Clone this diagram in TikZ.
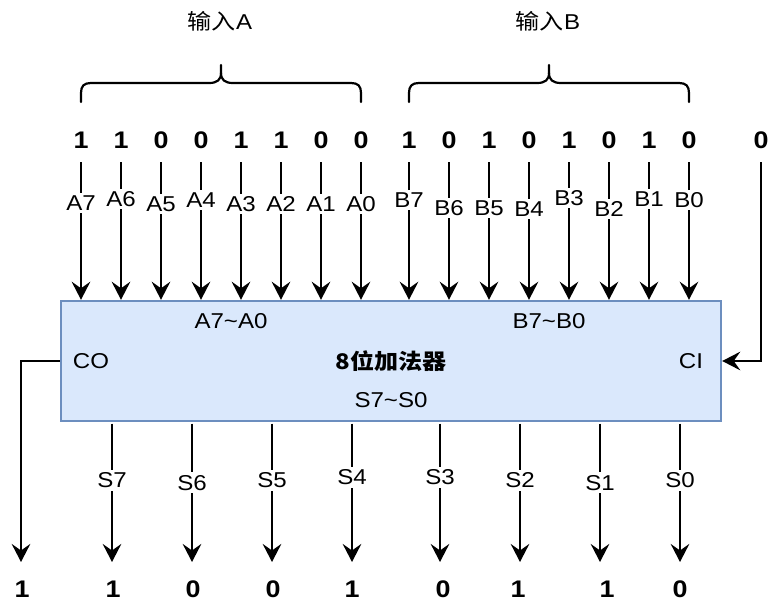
\documentclass[tikz,border=0pt]{standalone}
\usepackage{fontspec}
\setmainfont{Liberation Sans}[FakeStretch=1.12]
\newfontfamily\cjk{Noto Sans CJK SC}[FakeStretch=1.12]
\usetikzlibrary{arrows.meta}
\definecolor{boxfill}{HTML}{DAE8FC}
\definecolor{boxline}{HTML}{6C8EBF}
\tikzset{
  arr/.style={line width=2.8pt,-{Stealth[length=18pt,width=18.5pt,inset=6.5pt]}},
  lbl/.style={fill=white,inner sep=2.5pt,font=\fontsize{21.5}{24}\selectfont},
  bit/.style={font=\fontsize{24}{26}\selectfont\bfseries,inner sep=0pt,minimum height=44pt},
  obit/.style={bit,minimum height=52pt},
  intext/.style={font=\fontsize{21.5}{24}\selectfont,inner sep=0pt},
  brace/.style={line width=2.2pt,line cap=round,line join=round}}
\begin{document}
\begin{tikzpicture}[x=1pt,y=-1pt]
\useasboundingbox (0,0) rectangle (784,610);

% adder box
\node[draw=boxline,fill=boxfill,line width=2.4pt,minimum width=660pt,minimum height=120pt,inner sep=0pt,
      font=\fontsize{21.5}{24}\selectfont\cjk\bfseries] (adder) at (391,361) {8位加法器};
\node[intext] (ta) at (231,321) {A7\textasciitilde A0};
\node[intext] (tb) at (549,321) {B7\textasciitilde B0};
\node[intext] (tco) at (91,361) {CO};
\node[intext] (tci) at (691,361) {CI};
\node[intext] (ts) at (391,400) {S7\textasciitilde S0};

% group labels and braces
\node[intext] (ga) at (220,21) {{\cjk 输入}A};
\node[intext] (gb) at (548,21) {{\cjk 输入}B};
\foreach \c in {221,549} {
  \draw[brace] (\c-140,102) -- (\c-140,93) .. controls (\c-140,86) and (\c-137,83) .. (\c-130,83)
    -- (\c-12,83) .. controls (\c-4,83) and (\c,80) .. (\c,73) -- (\c,65);
  \draw[brace] (\c,73) .. controls (\c,80) and (\c+4,83) .. (\c+12,83)
    -- (\c+130,83) .. controls (\c+137,83) and (\c+140,86) .. (\c+140,93) -- (\c+140,102);
}

% inputs A
\foreach \x/\v/\n/\p [count=\i] in {81/1/A7/0.295,121/1/A6/0.266,161/0/A5/0.302,201/0/A4/0.273,
    241/1/A3/0.302,281/1/A2/0.302,321/0/A1/0.302,361/0/A0/0.302} {
  \node[bit] (ia\i) at (\x,140) {\v};
  \draw[arr] (ia\i.south) -- (ia\i.south |- adder.north) node[lbl,pos=\p] {\n};
}
% inputs B
\foreach \x/\v/\n/\p [count=\i] in {409/1/B7/0.273,449/0/B6/0.331,489/1/B5/0.331,529/0/B4/0.338,
    569/1/B3/0.259,609/0/B2/0.338,649/1/B1/0.266,689/0/B0/0.273} {
  \node[bit] (ib\i) at (\x,140) {\v};
  \draw[arr] (ib\i.south) -- (ib\i.south |- adder.north) node[lbl,pos=\p] {\n};
}
% carry in
\node[bit] (cin) at (761,140) {0};
\draw[arr] (cin.south) |- (adder.east);

% outputs
\foreach \lx/\dx/\v/\n/\p [count=\i] in {112/113/1/S7/0.417,192/193/0/S6/0.432,272/273/0/S5/0.417,
    352/352/1/S4/0.396,440/443/0/S3/0.396,520/518/1/S2/0.417,600/607/1/S1/0.432,680/680/0/S0/0.417} {
  \node[obit] (os\i) at (\dx,589) {\v};
  \coordinate (oe\i) at (\lx,562);
  \draw[arr,shorten <=1.5pt] (oe\i |- adder.south) -- (oe\i) node[lbl,pos=\p] {\n};
}
% carry out
\node[obit] (cout) at (22,589) {1};
\coordinate (coe) at (21,562);
\draw[arr] (adder.west) -| (coe);
\end{tikzpicture}
\end{document}
